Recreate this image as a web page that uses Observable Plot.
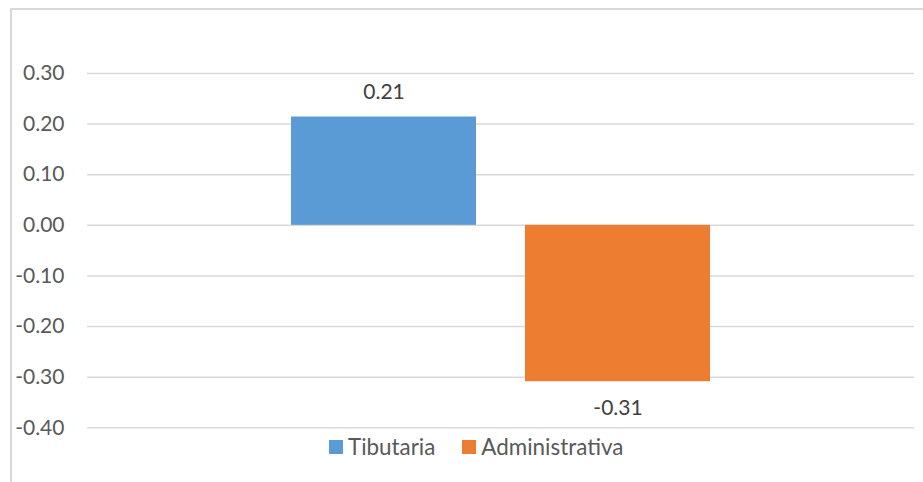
<!DOCTYPE html>
<html><head><meta charset="utf-8">
<script src="https://cdn.jsdelivr.net/npm/d3@7"></script>
<script src="https://cdn.jsdelivr.net/npm/@observablehq/plot@0.6"></script>
<style>
html,body{margin:0;padding:0;background:#fff;}
#wrap{position:relative;width:923px;height:482px;overflow:hidden;font-family:Lato,"Open Sans",sans-serif;}
#frame{position:absolute;left:10px;top:8px;width:960px;height:520px;border-left:2px solid #d9d9d9;border-top:2px solid #d9d9d9;}
#chart{position:absolute;left:0;top:0;}
#legend{position:absolute;left:329px;top:433px;display:flex;align-items:center;font-size:22.4px;color:#595959;white-space:nowrap;}
#legend .item{display:flex;align-items:center;margin-right:27px;}
#legend .sw{width:14px;height:14px;margin-right:5px;}
</style>
</head><body>
<div id="wrap"><div id="frame"></div><div id="chart"></div><div id="legend"></div></div>
<script>
const categories = ["Tibutaria", "Administrativa"];
const values = [0.214, -0.309];
const valueLabels = ["0.21", "-0.31"];
const colors = ["#5B9BD5", "#ED7D31"];
const yTicks = [-0.4, -0.3, -0.2, -0.1, 0, 0.1, 0.2, 0.3];

const data = categories.map((c, i) => ({cat: c, value: values[i], label: valueLabels[i]}));

const plot = Plot.plot({
  width: 923,
  height: 482,
  marginLeft: 87,
  marginRight: 9,
  marginTop: 73,
  marginBottom: 54.7,
  style: {fontFamily: "Lato, 'Open Sans', sans-serif", fontSize: "21px", background: "transparent"},
  x: {domain: categories, range: [290, 711], paddingInner: 0.2085, paddingOuter: 0, axis: null},
  y: {domain: [-0.4, 0.3]},
  color: {domain: categories, range: colors},
  marks: [
    Plot.ruleY(yTicks, {stroke: "#d9d9d9", strokeWidth: 1.5}),
    Plot.axisY(yTicks, {tickSize: 0, tickPadding: 23, tickFormat: d => d.toFixed(2), fill: "#595959", fontSize: 21, label: null}),
    Plot.barY(data, {x: "cat", y: "value", fill: "cat"}),
    Plot.text(data.filter(d => d.value >= 0), {x: "cat", y: "value", text: "label", dy: -25, fill: "#404040", fontSize: 21}),
    Plot.text(data.filter(d => d.value < 0), {x: "cat", y: "value", text: "label", dy: 27, fill: "#404040", fontSize: 21})
  ]
});
document.getElementById("chart").appendChild(plot);

const legend = document.getElementById("legend");
categories.forEach((c, i) => {
  const item = document.createElement("div");
  item.className = "item";
  const sw = document.createElement("span");
  sw.className = "sw";
  sw.style.background = colors[i];
  const t = document.createElement("span");
  t.textContent = c;
  item.appendChild(sw);
  item.appendChild(t);
  legend.appendChild(item);
});
</script>
</body></html>
